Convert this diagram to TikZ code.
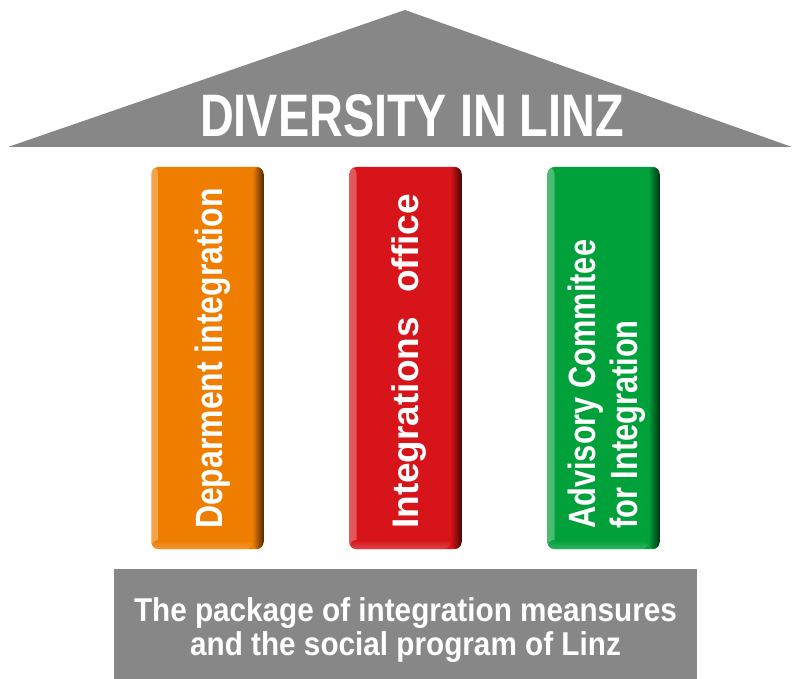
\documentclass[tikz,border=0pt]{standalone}
\usepackage{fontspec}
\setmainfont{Liberation Sans}
\newfontfamily\titlefont[FakeStretch=0.78]{Liberation Sans}
\newfontfamily\condfont[FakeStretch=0.81]{Liberation Sans}
\newfontfamily\condwfont[FakeStretch=0.84]{Liberation Sans}
\newfontfamily\basefont[FakeStretch=0.9]{Liberation Sans}
\definecolor{roofgray}{RGB}{135,135,135}
\definecolor{porange}{RGB}{239,125,0}
\definecolor{pred}{RGB}{214,20,25}
\definecolor{pgreen}{RGB}{0,160,58}
\tikzset{
  pillar/.style={rounded corners=7pt, minimum width=112pt, minimum height=382pt,
    inner sep=0pt, fill=#1, draw=none,
    path picture={
      \shade[left color=#1!70!white, right color=#1]
        (path picture bounding box.south west) rectangle ([xshift=7pt]path picture bounding box.north west);
      \shade[left color=#1, right color=#1!35!black]
        ([xshift=-11pt]path picture bounding box.south east) rectangle (path picture bounding box.north east);
      \shade[top color=#1, bottom color=#1!80!white]
        ([yshift=9pt]path picture bounding box.south west) rectangle ([xshift=-11pt]path picture bounding box.south east);
    }},
  ptext/.style={text=white, inner sep=0pt, anchor=base west, rotate=90,
    font=\condfont\bfseries\fontsize{38}{38}\selectfont},
  rtext/.style={text=white, inner sep=0pt, anchor=base west, rotate=90,
    font=\bfseries\fontsize{37}{37}\selectfont},
  btext/.style={text=white, inner sep=0pt, anchor=base,
    font=\basefont\bfseries\fontsize{33}{33}\selectfont},
}
\begin{document}
\begin{tikzpicture}[x=1pt,y=-1pt]
\useasboundingbox (0,0) rectangle (792,679);
% roof
\fill[roofgray] (8,147) -- (405,10) -- (792,147) -- cycle;
\node[text=white, inner sep=0pt, anchor=base, font=\titlefont\bfseries\fontsize{60}{60}\selectfont]
  (title) at (412,137) {DIVERSITY IN LINZ};
% pillars
\node[pillar=porange] (p1) at (207.5,358) {};
\node[pillar=pred] (p2) at (405.5,358) {};
\node[pillar=pgreen] (p3) at (603.5,358) {};
\node[ptext, font=\condwfont\bfseries\fontsize{38}{38}\selectfont] (t1) at (222,529) {Deparment integration};
\node[rtext] (t2) at (418,529) {Integrations\hspace{14pt} office};
\node[ptext] (t3a) at (595,529) {Advisory Commitee};
\node[ptext] (t3b) at (637,529) {for Integration};
% base
\fill[roofgray] (114,569) rectangle (697,679);
\node[btext] (b1) at (405.5,621) {The package of integration meansures};
\node[btext] (b2) at (405.5,655) {and the social program of Linz};
\end{tikzpicture}
\end{document}
